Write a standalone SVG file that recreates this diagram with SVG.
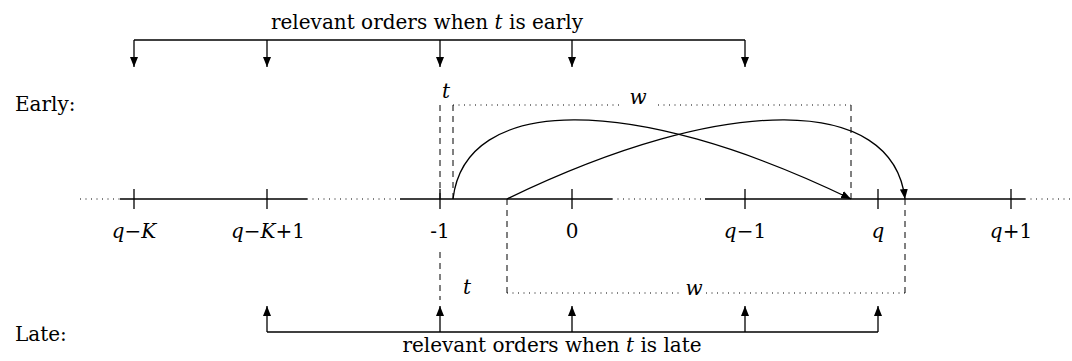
<svg xmlns="http://www.w3.org/2000/svg" width="1072" height="361" viewBox="0 0 1072 361">
<style>
  text { font-family: "DejaVu Serif", "Liberation Serif", serif; font-size: 20px; fill: #000; }
  .lbl { text-anchor: middle; }
  .it { font-style: italic; }
  .solid { stroke: #000; stroke-width: 1.3; fill: none; }
  .dot { stroke: #000; stroke-width: 1; fill: none; stroke-dasharray: 1 4.5; }
  .dash { stroke: #000; stroke-width: 1; fill: none; stroke-dasharray: 6 5; }
  .arr { stroke: #000; stroke-width: 1.3; fill: none; marker-end: url(#ah); }
</style>
<defs>
  <marker id="ah" viewBox="0 0 10 8" refX="10" refY="4" markerWidth="10" markerHeight="8" markerUnits="userSpaceOnUse" orient="auto">
    <path d="M0,0 L10,4 L0,8 Z" fill="#000"/>
  </marker>
</defs>
<rect width="1072" height="361" fill="#fff"/>

<g id="row-labels">
  <text x="15" y="111">Early:</text>
  <text x="15" y="341">Late:</text>
</g>

<g id="axis">
  <line class="dot" x1="80" y1="199" x2="120" y2="199"/>
  <line class="solid" x1="120" y1="199" x2="307" y2="199"/>
  <line class="dot" x1="307" y1="199" x2="400" y2="199"/>
  <line class="solid" x1="400" y1="199" x2="612" y2="199"/>
  <line class="dot" x1="612" y1="199" x2="705" y2="199"/>
  <line class="solid" x1="705" y1="199" x2="1025" y2="199"/>
  <line class="dot" x1="1025" y1="199" x2="1072" y2="199"/>
</g>

<g id="tick-qK">
  <line class="solid" x1="134" y1="189" x2="134" y2="209"/>
  <text class="lbl" x="134" y="238"><tspan class="it">q</tspan>−<tspan class="it">K</tspan></text>
</g>
<g id="tick-qK1">
  <line class="solid" x1="267" y1="189" x2="267" y2="209"/>
  <text class="lbl" x="268" y="238"><tspan class="it">q</tspan>−<tspan class="it">K</tspan>+1</text>
</g>
<g id="tick-m1">
  <line class="solid" x1="440" y1="189" x2="440" y2="209"/>
  <text class="lbl" x="440" y="238">-1</text>
</g>
<g id="tick-0">
  <line class="solid" x1="572" y1="189" x2="572" y2="209"/>
  <text class="lbl" x="572" y="238">0</text>
</g>
<g id="tick-q1">
  <line class="solid" x1="745" y1="189" x2="745" y2="209"/>
  <text class="lbl" x="745" y="238"><tspan class="it">q</tspan>−1</text>
</g>
<g id="tick-q">
  <line class="solid" x1="878" y1="189" x2="878" y2="209"/>
  <text class="lbl it" x="878" y="238">q</text>
</g>
<g id="tick-qp1">
  <line class="solid" x1="1011" y1="189" x2="1011" y2="209"/>
  <text class="lbl" x="1011" y="238"><tspan class="it">q</tspan>+1</text>
</g>

<g id="early-interval">
  <line class="dash" x1="440" y1="105" x2="440" y2="199"/>
  <line class="dash" x1="453" y1="105" x2="453" y2="199"/>
  <line class="dot" x1="453" y1="105" x2="620" y2="105"/>
  <line class="dot" x1="658" y1="105" x2="851" y2="105"/>
  <line class="dash" x1="851" y1="105" x2="851" y2="199"/>
  <text class="lbl it" x="446" y="98">t</text>
  <text class="lbl it" x="638" y="104">w</text>
</g>

<g id="late-interval">
  <line class="dash" x1="440" y1="252" x2="440" y2="300"/>
  <line class="dash" x1="507" y1="199" x2="507" y2="293"/>
  <line class="dot" x1="507" y1="293" x2="682" y2="293"/>
  <line class="dot" x1="706" y1="293" x2="905" y2="293"/>
  <line class="dash" x1="905" y1="199" x2="905" y2="293"/>
  <text class="lbl it" x="467" y="294">t</text>
  <text class="lbl it" x="694" y="295">w</text>
</g>

<g id="early-bracket">
  <line class="solid" x1="134" y1="40" x2="745" y2="40"/>
  <text class="lbl" x="427" y="29">relevant orders when <tspan class="it">t</tspan> is early</text>
</g>

<g id="late-bracket">
  <line class="solid" x1="267" y1="332" x2="878" y2="332"/>
  <text class="lbl" x="552" y="352">relevant orders when <tspan class="it">t</tspan> is late</text>
</g>

<g id="connectors">
  <line class="arr" x1="134" y1="40" x2="134" y2="67"/>
  <line class="arr" x1="267" y1="40" x2="267" y2="67"/>
  <line class="arr" x1="440" y1="40" x2="440" y2="67"/>
  <line class="arr" x1="572" y1="40" x2="572" y2="67"/>
  <line class="arr" x1="745" y1="40" x2="745" y2="67"/>
  <line class="arr" x1="267" y1="332" x2="267" y2="306"/>
  <line class="arr" x1="440" y1="332" x2="440" y2="306"/>
  <line class="arr" x1="572" y1="332" x2="572" y2="306"/>
  <line class="arr" x1="745" y1="332" x2="745" y2="306"/>
  <line class="arr" x1="878" y1="332" x2="878" y2="306"/>
  <path class="arr" d="M453,199 C465,95 630,92 851,199"/>
  <path class="arr" d="M507,199 C728,92 893,95 905,199"/>
</g>
</svg>
